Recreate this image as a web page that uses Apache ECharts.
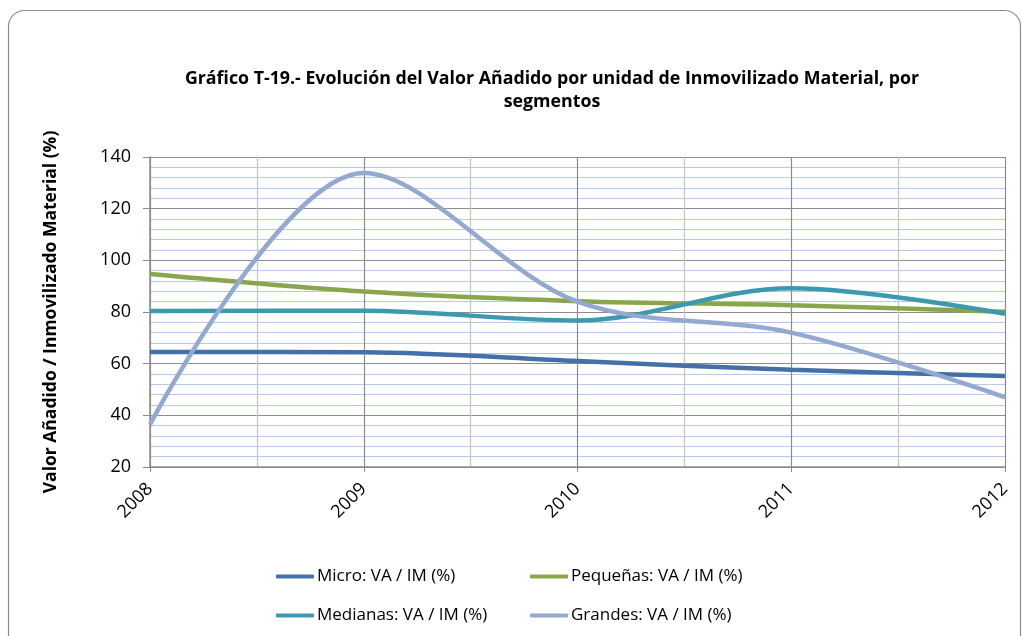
<!DOCTYPE html>
<html lang="es">
<head>
  <meta charset="UTF-8" />
  <title>Gráfico T-19</title>
  <script src="https://cdn.jsdelivr.net/npm/echarts@6/dist/echarts.min.js"></script>
  <style>
    html, body { margin: 0; padding: 0; background: #fff; }
  </style>
</head>
<body>
  <div id="main" style="width:1022px; height:636px;"></div>
  <script type="text/javascript">
    // datos
    const years = [2008, 2009, 2010, 2011, 2012];
    const micro = [64.5, 64.4, 61.0, 57.6, 55.2];
    const pequenas = [94.7, 87.9, 84.2, 82.6, 80.1];
    const medianas = [80.4, 80.5, 76.7, 89.2, 79.3];
    const grandes = [36.5, 133.8, 84.0, 72.0, 47.0];

    const seriesNames = [
      'Micro: VA / IM (%)',
      'Pequeñas: VA / IM (%)',
      'Medianas: VA / IM (%)',
      'Grandes: VA / IM (%)'
    ];
    const colors = ['#4470a8', '#8aa64c', '#3e98ae', '#93a9d0'];
    const font = '"Open Sans", Lato, sans-serif';

    function pairs(vals) {
      return vals.map((v, i) => [years[i], v]);
    }

    const chart = echarts.init(document.getElementById('main'));

    // una leyenda por serie, en dos filas
    const legendPos = [[276, 568], [530, 568], [276, 607], [530, 607]];
    const legends = seriesNames.map((name, i) => ({
      data: [name],
      left: legendPos[i][0],
      top: legendPos[i][1],
      padding: 0,
      icon: 'roundRect',
      itemWidth: 38,
      itemHeight: 4,
      itemGap: 4,
      textStyle: { fontFamily: font, fontSize: 17, color: '#000', padding: [0, 0, 0, -2] },
      selectedMode: false
    }));

    chart.setOption({
      animation: false,
      color: colors,
      title: {
        text: 'Gráfico T-19.- Evolución del Valor Añadido por unidad de Inmovilizado Material, por\nsegmentos',
        left: 547,
        textAlign: 'center',
        top: 62,
        textStyle: { fontFamily: font, fontSize: 17.8, fontWeight: 'bold', color: '#000', lineHeight: 23 }
      },
      graphic: [{
        type: 'rect',
        shape: { x: 8.5, y: 10.5, width: 1012, height: 650, r: 16 },
        style: { fill: null, stroke: '#8c8c8c', lineWidth: 1.2 },
        silent: true
      }],
      legend: legends,
      grid: { left: 150, right: 17, top: 157, bottom: 169 },
      xAxis: {
        type: 'value',
        min: 2008,
        max: 2012,
        interval: 1,
        axisLine: { show: true, lineStyle: { color: '#8c8c8c', width: 1.5 } },
        axisTick: { show: true, length: 5, lineStyle: { color: '#8c8c8c' } },
        axisLabel: {
          rotate: 45,
          margin: 19,
          fontFamily: font,
          fontSize: 18,
          color: '#000',
          formatter: v => String(v)
        },
        splitLine: { show: true, lineStyle: { color: '#8c8c8c', width: 1.2 } },
        minorTick: { show: false, splitNumber: 2 },
        minorSplitLine: { show: true, lineStyle: { color: '#c4c4c4', width: 1.2 } }
      },
      yAxis: {
        type: 'value',
        min: 20,
        max: 140,
        interval: 20,
        name: 'Valor Añadido / Inmovilizado Material (%)',
        nameLocation: 'middle',
        nameGap: 90,
        nameTextStyle: { fontFamily: font, fontSize: 17.5, fontWeight: 'bold', color: '#000' },
        axisLine: { show: true, lineStyle: { color: '#8c8c8c', width: 1.5 } },
        axisTick: { show: true, length: 7, lineStyle: { color: '#8c8c8c' } },
        axisLabel: { margin: 19, fontFamily: font, fontSize: 18, color: '#000' },
        splitLine: { show: true, lineStyle: { color: '#8c8c8c', width: 1.2 } },
        minorTick: { show: false, splitNumber: 5 },
        minorSplitLine: { show: true, lineStyle: { color: '#b7c9e8', width: 1.2 } }
      },
      series: [micro, pequenas, medianas, grandes].map((vals, i) => ({
        name: seriesNames[i],
        type: 'line',
        data: pairs(vals),
        smooth: 0.33,
        showSymbol: false,
        symbol: 'none',
        lineStyle: { width: 4.5, color: colors[i] },
        itemStyle: { color: colors[i] }
      }))
    });
  </script>
</body>
</html>
